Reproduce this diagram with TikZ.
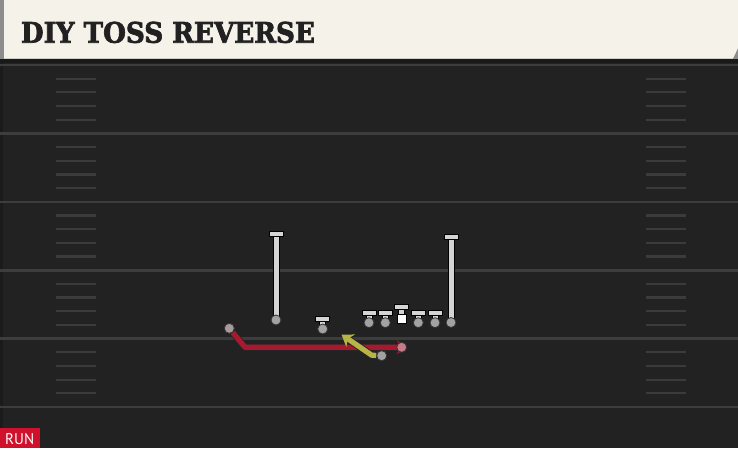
\documentclass[tikz,border=0pt]{standalone}
\usepackage{fontspec}
\usepackage{graphicx}
\usetikzlibrary{arrows.meta,calc}
\newfontfamily\titlefont{DejaVu Serif}[BoldFeatures={FakeBold=2.5}]
\newfontfamily\runfont{PT Sans}
\definecolor{cream}{HTML}{F5F2EA}
\definecolor{field}{HTML}{222222}
\definecolor{yard}{HTML}{3D3D3D}
\definecolor{hashc}{HTML}{3B3B3B}
\definecolor{plight}{HTML}{D4D4D4}
\definecolor{pcirc}{HTML}{A2A2A2}
\definecolor{routered}{HTML}{A8182F}
\definecolor{routeyel}{HTML}{B8B446}
\definecolor{runred}{HTML}{D0112B}
\definecolor{pinkc}{HTML}{C77A88}
\tikzset{
  barnode/.style={rectangle, fill=plight, draw=black, line width=1pt, minimum width=14pt, minimum height=5pt, inner sep=0pt},
  dotnode/.style={circle, fill=pcirc, draw=black!80, line width=0.8pt, minimum size=10pt, inner sep=0pt},
  centernode/.style={rectangle, fill=white, draw=black, line width=0.8pt, minimum size=9pt, inner sep=0pt},
  yardline/.style={draw=yard, line width=2.6pt},
  hashline/.style={draw=hashc, line width=2.2pt},
  routeout/.style={draw=black!85, line width=7pt, line join=round},
  redroute/.style={draw=routered, line width=5.2pt, line join=round},
  yelroute/.style={draw=routeyel, line width=5.2pt, line join=round},
}
\newcommand\playerT[4]{%
  \draw[black, line width=7pt] (#2,#3) -- (#2,#4);
  \draw[plight, line width=5pt] (#2,#3) -- (#2,#4);
  \node[barnode] (#1bar) at (#2,#3+2.4) {};
  \node[dotnode] (#1) at (#2,#4) {};
}
\begin{document}
\begin{tikzpicture}[x=1pt,y=-1pt]
\useasboundingbox (0,0) rectangle (738,448);
% field
\fill[field] (0,0) rectangle (738,448);
\fill[black!20!field] (0,59) rectangle (2.5,448);
% yard lines and hashes
\foreach \k in {0,...,5} {
  \draw[yardline] (0,65+68.4*\k) -- (738,65+68.4*\k);
}
\foreach \k in {0,...,4} {
  \foreach \j in {1,...,4} {
    \draw[hashline] (56,65+68.4*\k+13.68*\j) -- (96,65+68.4*\k+13.68*\j);
    \draw[hashline] (646,65+68.4*\k+13.68*\j) -- (686,65+68.4*\k+13.68*\j);
  }
}
% header
\fill[black!90] (0,58) rectangle (738,63);
\fill[black!45] (0,0) rectangle (738,59);
\fill[cream] (4,0) -- (738,0) -- (738,48) -- (733,58.5) -- (4,58.5) -- cycle;
\node[anchor=base west, inner sep=0pt, text=black!87] (title) at (20.7,42.7)
  {\resizebox{294pt}{21pt}{\titlefont\bfseries DIY TOSS REVERSE}};
% RUN label
\fill[runred] (0,427.7) rectangle (40,448);
\node[anchor=base west, inner sep=0pt, text=white] (run) at (5,444.3)
  {\resizebox{29pt}{11pt}{\runfont RUN}};
% players
\playerT{wrl}{276}{231.5}{320}
\playerT{wrr}{451}{234.5}{322.5}
\playerT{back}{322.7}{316.5}{329}
\playerT{ltl}{369}{310.5}{322.7}
\playerT{lgl}{385.3}{310.5}{322.7}
\playerT{rgr}{418.3}{310.5}{322.7}
\playerT{rtr}{435}{310.5}{322.7}
% center
\draw[black, line width=7pt] (401.3,306.5) -- (401.3,318);
\draw[plight, line width=5pt] (401.3,306.5) -- (401.3,318);
\node[barnode] (cbar) at (401.3,306.9) {};
\node[centernode] (center) at (401.5,318.5) {};
% routes
\coordinate (rbend) at (245,347.3);
\coordinate (rend) at (407,347.3);
\coordinate (ybend) at (371.7,355.2);
\coordinate (yend) at (341.5,334.5);
\coordinate (yendout) at ($(yend)!6pt!(ybend)$);
\node[dotnode, fill=pcirc!80!pinkc] (rstart) at (229.3,328.3) {};
\node[dotnode] (ystart) at (381.7,355.7) {};
\draw[routeout] (rstart) -- (rbend) -- (rend);
\draw[redroute, -{Stealth[length=10pt,width=14pt,inset=3pt]}] (rstart) -- (rbend) -- (rend);
\draw[routeout] (ystart) -- (ybend) -- (yendout);
\draw[yelroute, -{Stealth[length=11pt,width=15pt,inset=3.5pt]}] (ystart) -- (ybend) -- (yend);
\node[dotnode, fill=pinkc] (rdot) at (401.7,347.3) {};
\node[dotnode, fill=pcirc!80!pinkc] at (rstart) {};
\node[dotnode] at (ystart) {};
\end{tikzpicture}
\end{document}
